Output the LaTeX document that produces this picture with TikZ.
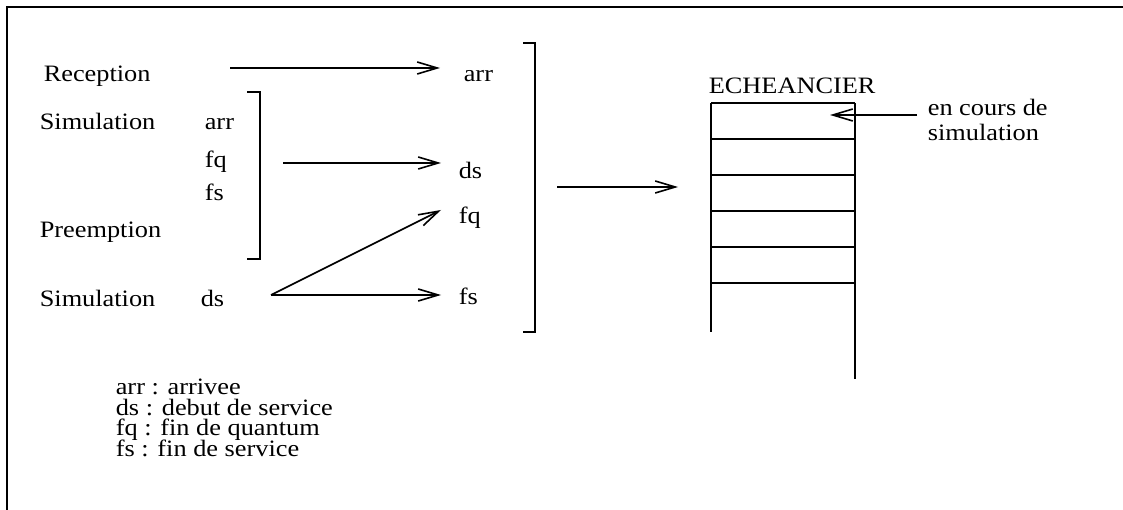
\documentclass[tikz,border=0pt]{standalone}
\usepackage{fontspec}
\setmainfont[FakeStretch=1.12]{Liberation Serif}
\usetikzlibrary{arrows.meta}
\begin{document}
\begin{tikzpicture}[x=1pt,y=-1pt,line width=1.6pt,
  lbl/.style={anchor=base west,inner sep=0pt,font=\fontsize{23.5}{21}\selectfont},
  arw/.style={-{Straight Barb[length=20pt,width=12pt]}}]
\useasboundingbox (0,0) rectangle (1123,510);
% frame
\draw (7,510) -- (7,7) -- (1123,7);
% left labels
\node[lbl] (rec) at (43,82) {Reception};
\node[lbl] (sim1) at (39,130) {Simulation};
\node[lbl] (larr) at (204,130) {arr};
\node[lbl] (lfq) at (204,168) {fq};
\node[lbl] (lfs) at (204,201) {fs};
\node[lbl] (pre) at (39,238) {Preemption};
\node[lbl] (sim2) at (39,306) {Simulation};
\node[lbl] (lds) at (200,306) {ds};
% right labels
\node[lbl] (rarr) at (463,82) {arr};
\node[lbl] (rds) at (458,179) {ds};
\node[lbl] (rfq) at (458,224) {fq};
\node[lbl] (rfs) at (458,305) {fs};
% coordinates for connectors
\coordinate (a1) at (230,68);
\coordinate (a2) at (440,68);
\coordinate (b1) at (283,163);
\coordinate (b2) at (441,163);
\coordinate (c1) at (271,295);
\coordinate (c2) at (441,210);
\coordinate (c3) at (441,295);
\coordinate (d1) at (557,187);
\coordinate (d2) at (678,187);
\coordinate (e1) at (917,115);
\coordinate (e2) at (830,115);
\draw[arw] (a1) -- (a2);
\draw[arw] (b1) -- (b2);
\draw[arw] (c1) -- (c2);
\draw[arw] (c1) -- (c3);
\draw[arw] (d1) -- (d2);
\draw[arw] (e1) -- (e2);
% brackets
\draw (247,92) -- (260,92) -- (260,259) -- (247,259);
\draw (523,43) -- (535,43) -- (535,332) -- (523,332);
% echeancier
\node[lbl] (ech) at (708,94) {ECHEANCIER};
\draw (711,103) -- (711,332);
\draw (855,103) -- (855,379);
\foreach \yy in {103,139,175,211,247,283} \draw (711,\yy) -- (855,\yy);
\node[lbl] (ec1) at (927,116) {en cours de};
\node[lbl] (ec2) at (927,141) {simulation};
% legend
\node[lbl] (g1) at (115,394) {arr : arrivee};
\node[lbl] (g2) at (115,415) {ds : debut de service};
\node[lbl] (g3) at (115,435) {fq : fin de quantum};
\node[lbl] (g4) at (115,456) {fs : fin de service};
\end{tikzpicture}
\end{document}
